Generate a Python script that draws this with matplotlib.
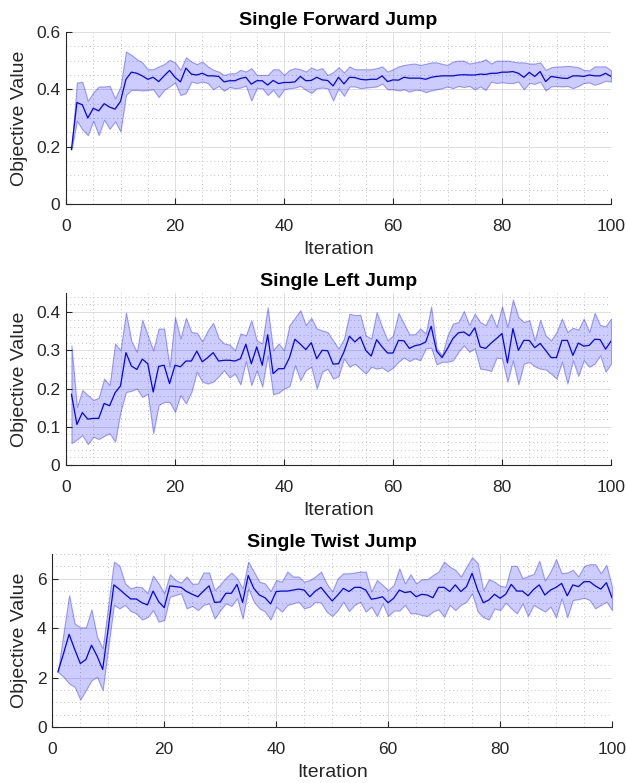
import numpy as np
import matplotlib
matplotlib.use('Agg')
import matplotlib.pyplot as plt
from matplotlib.ticker import MultipleLocator, FuncFormatter

plt.rcParams['font.family'] = ['Liberation Sans', 'DejaVu Sans']

iteration = np.arange(1, 101)

# Single Forward Jump
fwd_mean = [0.19, 0.354, 0.346, 0.30, 0.334, 0.325, 0.35, 0.338, 0.331, 0.358,
            0.435, 0.46, 0.456, 0.447, 0.435, 0.442, 0.427, 0.447, 0.466, 0.442,
            0.426, 0.474, 0.453, 0.45, 0.456, 0.447, 0.447, 0.445, 0.426, 0.43,
            0.43, 0.438, 0.442, 0.418, 0.43, 0.43, 0.415, 0.431, 0.42, 0.424,
            0.424, 0.426, 0.445, 0.43, 0.431, 0.442, 0.433, 0.431, 0.412, 0.442,
            0.419, 0.442, 0.441, 0.435, 0.433, 0.435, 0.435, 0.447, 0.427, 0.433,
            0.432, 0.442, 0.439, 0.439, 0.439, 0.435, 0.442, 0.445, 0.447, 0.447,
            0.447, 0.45, 0.451, 0.45, 0.45, 0.453, 0.452, 0.456, 0.456, 0.46,
            0.46, 0.462, 0.456, 0.442, 0.459, 0.445, 0.462, 0.427, 0.445, 0.442,
            0.439, 0.438, 0.447, 0.447, 0.445, 0.45, 0.447, 0.447, 0.456, 0.445]
fwd_upper = [0.19, 0.424, 0.426, 0.36, 0.389, 0.41, 0.41, 0.412, 0.368, 0.41,
             0.532, 0.52, 0.505, 0.494, 0.47, 0.47, 0.48, 0.488, 0.503, 0.494,
             0.468, 0.512, 0.497, 0.488, 0.497, 0.48, 0.468, 0.462, 0.45, 0.456,
             0.456, 0.468, 0.462, 0.474, 0.45, 0.45, 0.45, 0.47, 0.47, 0.45,
             0.468, 0.474, 0.47, 0.462, 0.476, 0.468, 0.474, 0.45, 0.46, 0.477,
             0.459, 0.48, 0.47, 0.47, 0.47, 0.47, 0.474, 0.48, 0.462, 0.47,
             0.48, 0.485, 0.488, 0.49, 0.485, 0.489, 0.494, 0.494, 0.489, 0.485,
             0.497, 0.5, 0.5, 0.49, 0.494, 0.497, 0.505, 0.49, 0.5, 0.5,
             0.5, 0.497, 0.494, 0.494, 0.49, 0.49, 0.494, 0.468, 0.477, 0.48,
             0.48, 0.482, 0.48, 0.477, 0.468, 0.466, 0.48, 0.48, 0.48, 0.466]
fwd_lower = [0.19, 0.29, 0.26, 0.24, 0.29, 0.24, 0.294, 0.262, 0.288, 0.253,
             0.38, 0.398, 0.398, 0.396, 0.398, 0.4, 0.373, 0.398, 0.41, 0.424,
             0.38, 0.387, 0.427, 0.422, 0.427, 0.422, 0.4, 0.412, 0.395, 0.408,
             0.404, 0.406, 0.413, 0.361, 0.404, 0.404, 0.38, 0.398, 0.373, 0.4,
             0.404, 0.406, 0.412, 0.398, 0.387, 0.404, 0.406, 0.404, 0.361, 0.404,
             0.377, 0.41, 0.41, 0.404, 0.406, 0.408, 0.41, 0.42, 0.4, 0.4,
             0.396, 0.4, 0.392, 0.398, 0.398, 0.39, 0.396, 0.4, 0.404, 0.41,
             0.404, 0.412, 0.408, 0.412, 0.4, 0.41, 0.398, 0.427, 0.422, 0.425,
             0.422, 0.422, 0.427, 0.4, 0.422, 0.419, 0.427, 0.396, 0.41, 0.412,
             0.41, 0.412, 0.404, 0.412, 0.422, 0.424, 0.416, 0.422, 0.43, 0.427]

# Single Left Jump
left_mean = [0.185, 0.106, 0.137, 0.12, 0.122, 0.122, 0.161, 0.155, 0.189, 0.207,
             0.294, 0.259, 0.25, 0.277, 0.265, 0.191, 0.258, 0.261, 0.213, 0.261,
             0.257, 0.272, 0.272, 0.298, 0.27, 0.281, 0.294, 0.272, 0.274, 0.274,
             0.272, 0.278, 0.316, 0.265, 0.309, 0.261, 0.341, 0.239, 0.252, 0.252,
             0.281, 0.329, 0.316, 0.302, 0.32, 0.278, 0.3, 0.299, 0.264, 0.265,
             0.296, 0.337, 0.322, 0.335, 0.3, 0.285, 0.328, 0.309, 0.293, 0.293,
             0.326, 0.325, 0.305, 0.312, 0.315, 0.322, 0.363, 0.298, 0.281, 0.305,
             0.331, 0.346, 0.348, 0.338, 0.359, 0.309, 0.305, 0.319, 0.331, 0.344,
             0.267, 0.357, 0.3, 0.326, 0.326, 0.307, 0.318, 0.3, 0.281, 0.281,
             0.326, 0.326, 0.287, 0.319, 0.311, 0.313, 0.329, 0.328, 0.303, 0.324]
left_upper = [0.313, 0.152, 0.196, 0.183, 0.17, 0.176, 0.226, 0.209, 0.318, 0.3,
              0.399, 0.324, 0.296, 0.38, 0.339, 0.3, 0.357, 0.357, 0.257, 0.387,
              0.331, 0.385, 0.348, 0.346, 0.324, 0.352, 0.372, 0.332, 0.318, 0.315,
              0.3, 0.344, 0.339, 0.379, 0.326, 0.318, 0.413, 0.3, 0.318, 0.3,
              0.366, 0.385, 0.405, 0.366, 0.385, 0.357, 0.352, 0.348, 0.326, 0.305,
              0.33, 0.396, 0.392, 0.393, 0.339, 0.331, 0.4, 0.361, 0.326, 0.339,
              0.398, 0.37, 0.342, 0.342, 0.357, 0.344, 0.415, 0.305, 0.287, 0.339,
              0.37, 0.374, 0.403, 0.366, 0.396, 0.374, 0.366, 0.396, 0.361, 0.415,
              0.361, 0.433, 0.387, 0.374, 0.379, 0.326, 0.38, 0.339, 0.326, 0.348,
              0.383, 0.348, 0.359, 0.354, 0.383, 0.348, 0.398, 0.366, 0.363, 0.383]
left_lower = [0.057, 0.067, 0.078, 0.055, 0.074, 0.068, 0.076, 0.083, 0.061, 0.139,
              0.191, 0.194, 0.2, 0.178, 0.187, 0.083, 0.157, 0.165, 0.165, 0.139,
              0.183, 0.161, 0.191, 0.244, 0.218, 0.213, 0.218, 0.232, 0.248, 0.229,
              0.239, 0.211, 0.272, 0.209, 0.248, 0.205, 0.287, 0.185, 0.189, 0.2,
              0.206, 0.261, 0.222, 0.248, 0.257, 0.2, 0.244, 0.252, 0.226, 0.232,
              0.279, 0.257, 0.265, 0.252, 0.239, 0.257, 0.252, 0.255, 0.245, 0.255,
              0.27, 0.281, 0.272, 0.279, 0.274, 0.305, 0.307, 0.263, 0.27, 0.27,
              0.274, 0.296, 0.313, 0.296, 0.305, 0.252, 0.25, 0.246, 0.281, 0.279,
              0.218, 0.274, 0.211, 0.265, 0.27, 0.258, 0.252, 0.25, 0.239, 0.226,
              0.27, 0.213, 0.274, 0.233, 0.274, 0.257, 0.265, 0.287, 0.244, 0.265]

# Single Twist Jump
twist_mean = [2.23, 2.97, 3.75, 3.14, 2.57, 2.73, 3.31, 2.87, 2.33, 4.0,
              5.75, 5.57, 5.37, 5.18, 5.18, 5.03, 4.94, 5.5, 5.07, 4.83,
              5.71, 5.68, 5.65, 5.48, 5.37, 5.27, 5.5, 5.71, 5.04, 5.06,
              5.41, 5.41, 5.77, 5.04, 6.13, 5.61, 5.34, 5.23, 4.98, 5.48,
              5.5, 5.5, 5.54, 5.58, 5.54, 5.27, 5.5, 5.65, 5.37, 5.1,
              5.34, 5.61, 5.48, 5.65, 5.65, 5.54, 5.17, 5.21, 5.27, 5.03,
              5.21, 5.54, 5.44, 5.48, 5.27, 5.37, 5.34, 5.23, 5.65, 5.65,
              5.48, 5.75, 5.48, 5.68, 6.22, 5.54, 5.03, 5.14, 5.37, 5.21,
              5.37, 5.77, 5.5, 5.5, 5.31, 5.57, 5.75, 5.34, 5.54, 5.65,
              5.81, 5.31, 5.75, 5.68, 5.88, 5.88, 5.71, 5.58, 5.84, 5.23]
twist_upper = [2.23, 3.8, 5.34, 4.19, 4.03, 4.03, 4.76, 3.65, 3.18, 4.94,
               6.69, 6.53, 5.81, 5.61, 5.68, 5.65, 5.41, 6.13, 5.81, 5.41,
               6.18, 5.95, 5.84, 6.09, 5.79, 5.81, 6.25, 6.25, 5.54, 5.77,
               6.04, 6.25, 6.02, 5.61, 6.69, 6.29, 5.88, 5.81, 5.5, 5.95,
               5.88, 6.29, 6.09, 6.09, 5.88, 5.95, 6.09, 6.29, 5.81, 5.48,
               6.02, 6.22, 6.22, 6.25, 6.29, 6.29, 5.48, 5.95, 5.75, 5.54,
               5.75, 6.42, 5.81, 6.18, 5.81, 5.98, 5.98, 6.15, 6.29, 6.69,
               6.49, 6.36, 6.09, 6.49, 6.87, 6.63, 5.54, 5.98, 5.88, 5.71,
               5.68, 6.52, 6.52, 6.02, 6.11, 6.19, 6.73, 5.92, 6.29, 6.79,
               6.22, 6.25, 6.36, 6.09, 6.52, 6.59, 6.59, 6.22, 6.56, 5.68]
twist_lower = [2.23, 2.03, 1.76, 1.62, 1.11, 1.49, 1.89, 2.03, 1.49, 3.22,
               4.94, 4.8, 4.94, 4.69, 4.6, 4.35, 4.44, 4.73, 4.26, 4.33,
               5.27, 5.34, 5.41, 4.8, 4.9, 4.73, 4.94, 5.0, 4.39, 4.73,
               5.0, 4.9, 5.21, 4.39, 5.61, 5.07, 4.8, 4.67, 4.35, 4.87,
               4.67, 4.94, 5.0, 5.07, 4.8, 4.87, 5.07, 5.03, 4.67, 4.49,
               4.73, 5.07, 4.69, 4.94, 5.07, 4.67, 4.87, 4.49, 5.0, 4.49,
               4.71, 4.71, 4.94, 4.6, 4.6, 4.53, 4.49, 4.67, 4.76, 4.46,
               4.94, 4.73, 4.94, 5.07, 5.41, 4.67, 4.44, 4.35, 4.8, 4.73,
               5.03, 4.8, 4.6, 5.0, 4.49, 4.94, 4.8, 4.67, 4.87, 4.44,
               5.21, 4.44, 5.14, 5.17, 5.23, 5.14, 4.8, 4.94, 5.07, 4.73]

titles = ['Single Forward Jump', 'Single Left Jump', 'Single Twist Jump']
y_limits = [(0, 0.6), (0, 0.45), (0, 7)]
y_major = [0.2, 0.1, 2]
y_minor = [0.05, 0.02, 0.5]

W, H = 626, 783
# axes boxes in pixels: left, top, right, bottom
boxes = [(66, 32, 611, 204), (66, 293, 611, 465), (52.3, 554, 612, 727)]

dark = '#262626'
fig = plt.figure(figsize=(W / 100, H / 100), dpi=100)

panels = [(fwd_mean, fwd_upper, fwd_lower),
          (left_mean, left_upper, left_lower),
          (twist_mean, twist_upper, twist_lower)]

for k, (mean, upper, lower) in enumerate(panels):
    l, t, r, b = boxes[k]
    ax = fig.add_axes([l / W, 1 - b / H, (r - l) / W, (b - t) / H])

    ax.fill_between(iteration, lower, upper, facecolor=(0, 0, 1, 0.2),
                    edgecolor=(0, 0, 1, 0.35), linewidth=0.8, zorder=2)
    ax.plot(iteration, mean, color='b', lw=0.9, zorder=3)

    ax.set_xlim(0, 100)
    ax.set_ylim(*y_limits[k])
    ax.xaxis.set_major_locator(MultipleLocator(20))
    ax.xaxis.set_minor_locator(MultipleLocator(5))
    ax.yaxis.set_major_locator(MultipleLocator(y_major[k]))
    ax.yaxis.set_minor_locator(MultipleLocator(y_minor[k]))
    ax.yaxis.set_major_formatter(FuncFormatter(lambda v, p: '%g' % round(v, 4)))

    ax.set_axisbelow(True)
    ax.grid(which='major', color='#dedede', lw=0.7, ls='-')
    ax.grid(which='minor', color='#c2c2c2', lw=0.7, ls=(0, (1, 3)))

    for s in ['top', 'right']:
        ax.spines[s].set_visible(False)
    for s in ['left', 'bottom']:
        ax.spines[s].set_color(dark)
        ax.spines[s].set_linewidth(0.8)

    ax.tick_params(which='major', direction='in', length=4, width=0.8,
                   colors=dark, labelsize=12.5)
    ax.tick_params(axis='x', which='major', pad=11)
    ax.tick_params(axis='y', which='major', pad=4)
    ax.tick_params(which='minor', length=0)

    ax.set_title(titles[k], fontsize=14, fontweight='bold', pad=5)
    ax.set_xlabel('Iteration', fontsize=14, color=dark, va='top')
    ax.set_ylabel('Objective Value', fontsize=14, color=dark)
    ax.xaxis.set_label_coords(0.5, -0.215)
    ax.yaxis.set_label_coords((28 - l) / (r - l), 0.5)

fig.savefig('out.png', dpi=100)
